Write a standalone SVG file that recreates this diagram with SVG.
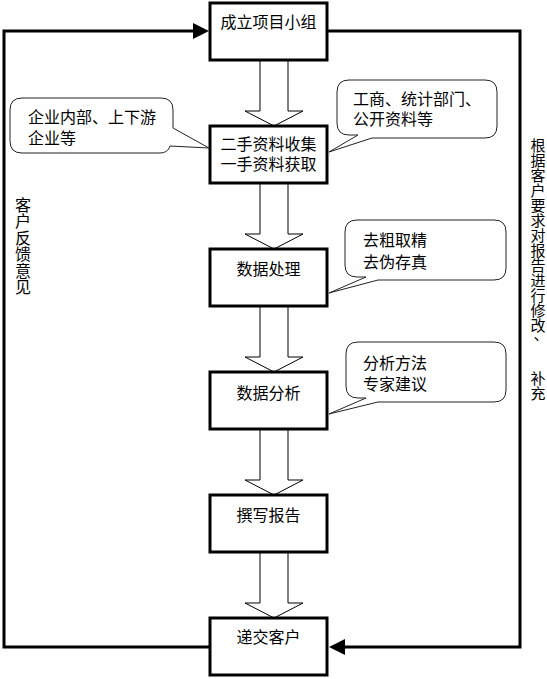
<svg xmlns="http://www.w3.org/2000/svg" width="547" height="679" viewBox="0 0 547 679">
<style>
.box{fill:#fff;stroke:#000;stroke-width:3}
.t{font-family:"Noto Sans CJK SC","Noto Sans",sans-serif;font-size:16px;fill:#000;dominant-baseline:central}
.v{font-size:15px}
.c{text-anchor:middle}
.bub{fill:#fff;stroke:#222;stroke-width:1}
.blk{fill:#fff;stroke:#000;stroke-width:1}
.fb{fill:none;stroke:#000;stroke-width:3}
.ah{fill:#000}
</style>
<rect width="547" height="679" fill="#fff"/>
<g id="connectors">
<polygon class="blk" points="260,60 288,60 288,111 303,111 274,126 245,111 260,111"/>
<polygon class="blk" points="260,183 288,183 288,234 303,234 274,249 245,234 260,234"/>
<polygon class="blk" points="260,306 288,306 288,357 303,357 274,372 245,357 260,357"/>
<polygon class="blk" points="260,429 288,429 288,480 303,480 274,495 245,480 260,480"/>
<polygon class="blk" points="260,552 288,552 288,603 303,603 274,618 245,603 260,603"/>
<polyline class="fb" points="210,647 4,647 4,31 195,31"/>
<polygon class="ah" points="193,23 209,31 193,39"/>
<polyline class="fb" points="327,31 520,31 520,647 343,647"/>
<polygon class="ah" points="345,639 329,647 345,655"/>
</g>
<g id="box1"><rect class="box" x="210" y="3" width="117" height="57"/><text class="t c" x="268.5" y="21">成立项目小组</text></g>
<g id="box2"><rect class="box" x="210" y="126" width="117" height="57"/><text class="t c" x="268.5" y="143">二手资料收集</text><text class="t c" x="268.5" y="163">一手资料获取</text></g>
<g id="box3"><rect class="box" x="210" y="249" width="117" height="57"/><text class="t c" x="268.5" y="268">数据处理</text></g>
<g id="box4"><rect class="box" x="210" y="372" width="117" height="57"/><text class="t c" x="268.5" y="392">数据分析</text></g>
<g id="box5"><rect class="box" x="210" y="495" width="117" height="57"/><text class="t c" x="268.5" y="514">撰写报告</text></g>
<g id="box6"><rect class="box" x="210" y="618" width="117" height="57"/><text class="t c" x="268.5" y="636">递交客户</text></g>
<g id="callout1"><path class="bub" d="M22,98 H161 Q173,98 173,110 V128 L209,148 L170,146 Q168,153 160,153 H22 Q10,153 10,141 V110 Q10,98 22,98 Z"/><text class="t" x="28" y="116">企业内部、上下游</text><text class="t" x="28" y="137">企业等</text></g>
<g id="callout2"><path class="bub" d="M349,80 H485 Q497,80 497,92 V126 Q497,138 485,138 H372 L329,152 L358,135 H349 Q337,135 337,123 V92 Q337,80 349,80 Z"/><text class="t" x="353" y="98">工商、统计部门、</text><text class="t" x="353" y="118">公开资料等</text></g>
<g id="callout3"><path class="bub" d="M357,220 H494 Q506,220 506,232 V268 Q506,280 494,280 H378 L329,293 L366,277 H357 Q345,277 345,265 V232 Q345,220 357,220 Z"/><text class="t" x="363" y="239">去粗取精</text><text class="t" x="363" y="261">去伪存真</text></g>
<g id="callout4"><path class="bub" d="M358,342 H494 Q506,342 506,354 V390 Q506,402 494,402 H378 L329,414 L366,398 H358 Q346,398 346,386 V354 Q346,342 358,342 Z"/><text class="t" x="363" y="362">分析方法</text><text class="t" x="363" y="383">专家建议</text></g>
<g id="label-left"><text class="t c"><tspan x="23" y="203.5">客</tspan><tspan x="23" y="220">户</tspan><tspan x="23" y="236.5">反</tspan><tspan x="23" y="253">馈</tspan><tspan x="23" y="269.5">意</tspan><tspan x="23" y="286">见</tspan></text></g>
<g id="label-right"><text class="t v c"><tspan x="538" y="143.5">根</tspan><tspan x="538" y="158.5">据</tspan><tspan x="538" y="173.5">客</tspan><tspan x="538" y="188.5">户</tspan><tspan x="538" y="203.5">要</tspan><tspan x="538" y="218.5">求</tspan><tspan x="538" y="233.5">对</tspan><tspan x="538" y="248.5">报</tspan><tspan x="538" y="263.5">告</tspan><tspan x="538" y="278.5">进</tspan><tspan x="538" y="293.5">行</tspan><tspan x="538" y="308.5">修</tspan><tspan x="538" y="323.5">改</tspan><tspan x="541" y="333">、</tspan><tspan x="538" y="377">补</tspan><tspan x="538" y="392">充</tspan></text></g>
</svg>
